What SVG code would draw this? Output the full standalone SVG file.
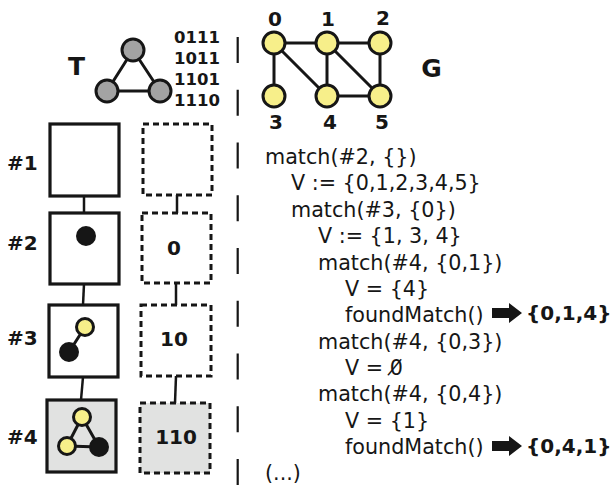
<svg xmlns="http://www.w3.org/2000/svg" width="612" height="485" viewBox="0 0 612 485">
  <style>
    .edge { stroke: #161616; stroke-width: 3; fill: none; stroke-linecap: round; }
    .link { stroke: #161616; stroke-width: 2.5; fill: none; }
    .box { fill: #ffffff; stroke: #161616; stroke-width: 3.2; }
    .dbox { fill: #ffffff; stroke: #161616; stroke-width: 3; stroke-dasharray: 6 4; }
    .hl { fill: #e1e2e1; }
    .yellow { fill: #f7ef8a; stroke: #161616; stroke-width: 3; }
    .grey { fill: #a3a3a3; stroke: #161616; stroke-width: 3; }
    .black { fill: #161616; stroke: #161616; stroke-width: 2; }
    .sep { stroke: #161616; stroke-width: 2.2; stroke-dasharray: 26 26.75; }
    .big { font-family: "DejaVu Sans", sans-serif; font-weight: bold; font-size: 25px; fill: #161616; }
    .bold { font-family: "DejaVu Sans", sans-serif; font-weight: bold; font-size: 20px; fill: #161616; }
    .bits { font-family: "DejaVu Sans", sans-serif; font-weight: bold; font-size: 16.5px; fill: #161616; }
    .code { font-family: "DejaVu Sans", sans-serif; font-size: 20.7px; fill: #161616; }
  </style>

  <!-- vertical dashed separator -->
  <line class="sep" x1="237.7" y1="37" x2="237.7" y2="485"/>

  <!-- pattern graph T -->
  <g id="graph-T">
    <text class="big" x="76.5" y="75" text-anchor="middle">T</text>
    <line class="edge" x1="133" y1="50" x2="107" y2="91"/>
    <line class="edge" x1="133" y1="50" x2="160" y2="91"/>
    <line class="edge" x1="107" y1="91" x2="160" y2="91"/>
    <circle class="grey" cx="133" cy="50" r="11"/>
    <circle class="grey" cx="107" cy="91" r="11"/>
    <circle class="grey" cx="160" cy="91" r="11"/>
    <text class="bits" x="174" y="43">0111</text>
    <text class="bits" x="174" y="64">1011</text>
    <text class="bits" x="174" y="85">1101</text>
    <text class="bits" x="174" y="106">1110</text>
  </g>

  <!-- target graph G -->
  <g id="graph-G">
    <line class="edge" x1="274" y1="43" x2="327" y2="43"/>
    <line class="edge" x1="327" y1="43" x2="380" y2="43"/>
    <line class="edge" x1="274" y1="43" x2="274" y2="96"/>
    <line class="edge" x1="274" y1="43" x2="327" y2="96"/>
    <line class="edge" x1="327" y1="43" x2="327" y2="96"/>
    <line class="edge" x1="327" y1="43" x2="380" y2="96"/>
    <line class="edge" x1="380" y1="43" x2="380" y2="96"/>
    <line class="edge" x1="327" y1="96" x2="380" y2="96"/>
    <circle class="yellow" cx="274" cy="43" r="11"/>
    <circle class="yellow" cx="327" cy="43" r="11"/>
    <circle class="yellow" cx="380" cy="43" r="11"/>
    <circle class="yellow" cx="274" cy="96" r="11"/>
    <circle class="yellow" cx="327" cy="96" r="11"/>
    <circle class="yellow" cx="380" cy="96" r="11"/>
    <text class="bold" x="275" y="26" text-anchor="middle">0</text>
    <text class="bold" x="328" y="26" text-anchor="middle">1</text>
    <text class="bold" x="383" y="25" text-anchor="middle">2</text>
    <text class="bold" x="276" y="129" text-anchor="middle">3</text>
    <text class="bold" x="330" y="129" text-anchor="middle">4</text>
    <text class="bold" x="382" y="129" text-anchor="middle">5</text>
    <text class="big" x="431.5" y="77" text-anchor="middle">G</text>
  </g>

  <!-- connectors between the stages -->
  <g id="connectors">
    <line class="link" x1="84" y1="196" x2="84" y2="213"/>
    <line class="link" x1="84" y1="284" x2="83" y2="305"/>
    <line class="link" x1="83" y1="377" x2="81" y2="400"/>
    <line class="link" x1="177" y1="195" x2="177" y2="213"/>
    <line class="link" x1="176" y1="283" x2="176" y2="305"/>
    <line class="link" x1="176" y1="376" x2="175" y2="403"/>
  </g>

  <!-- stage #1 -->
  <g id="stage-1">
    <text class="bold" x="7" y="170">#1</text>
    <rect class="box" x="50" y="124" width="69" height="72"/>
    <rect class="dbox" x="143" y="124" width="69" height="71"/>
  </g>

  <!-- stage #2 -->
  <g id="stage-2">
    <text class="bold" x="7" y="250">#2</text>
    <rect class="box" x="50" y="213" width="69" height="71"/>
    <circle class="black" cx="86" cy="236" r="9"/>
    <rect class="dbox" x="142" y="213" width="69" height="70"/>
    <text class="bold" x="174" y="255" text-anchor="middle">0</text>
  </g>

  <!-- stage #3 -->
  <g id="stage-3">
    <text class="bold" x="7" y="345">#3</text>
    <rect class="box" x="49" y="305" width="69" height="72"/>
    <line class="edge" x1="85" y1="327" x2="69" y2="352"/>
    <circle class="yellow" cx="85" cy="327" r="8.5"/>
    <circle class="black" cx="69" cy="352" r="9"/>
    <rect class="dbox" x="141" y="305" width="70" height="71"/>
    <text class="bold" x="174" y="346" text-anchor="middle">10</text>
  </g>

  <!-- stage #4 -->
  <g id="stage-4">
    <text class="bold" x="7" y="444">#4</text>
    <rect class="box hl" x="47" y="400" width="69" height="72"/>
    <line class="edge" x1="82" y1="417" x2="67" y2="446"/>
    <line class="edge" x1="82" y1="417" x2="99" y2="447"/>
    <line class="edge" x1="67" y1="446" x2="99" y2="447"/>
    <circle class="yellow" cx="82" cy="417" r="8.5"/>
    <circle class="yellow" cx="67" cy="446" r="8.5"/>
    <circle class="black" cx="99" cy="447" r="9"/>
    <rect class="dbox hl" x="140" y="403" width="70" height="70"/>
    <text class="bold" x="176" y="444" text-anchor="middle">110</text>
  </g>

  <!-- recursive trace -->
  <g id="trace">
    <text class="code" x="265" y="164">match(#2, {})</text>
    <text class="code" x="291" y="190">V := {0,1,2,3,4,5}</text>
    <text class="code" x="291" y="217">match(#3, {0})</text>
    <text class="code" x="318" y="243">V := {1, 3, 4}</text>
    <text class="code" x="318" y="270">match(#4, {0,1})</text>
    <text class="code" x="345" y="296">V = {4}</text>
    <text class="code" x="345" y="322">foundMatch()</text>
    <text class="code" x="318" y="349">match(#4, {0,3})</text>
    <text class="code" x="345" y="375">V = 0̸</text>
    <text class="code" x="318" y="401">match(#4, {0,4})</text>
    <text class="code" x="345" y="428">V = {1}</text>
    <text class="code" x="345" y="454">foundMatch()</text>
    <text class="code" x="265" y="480">(...)</text>
  </g>

  <!-- results -->
  <g id="result-1">
    <polygon fill="#161616" points="492,308 509,308 509,303 522,313 509,323 509,318 492,318"/>
    <text class="bold" x="526" y="320">{0,1,4}</text>
  </g>
  <g id="result-2">
    <polygon fill="#161616" points="492,441 509,441 509,436 522,446 509,456 509,451 492,451"/>
    <text class="bold" x="526" y="453">{0,4,1}</text>
  </g>
</svg>
